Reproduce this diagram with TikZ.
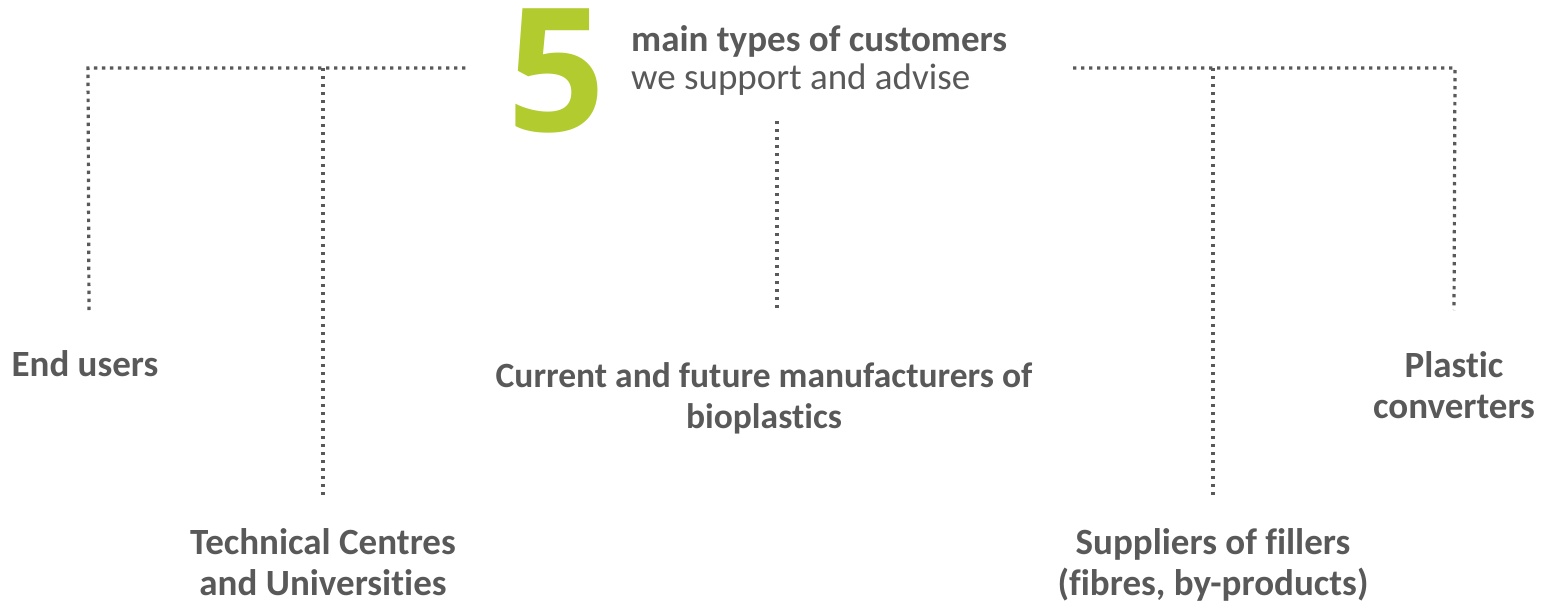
\documentclass[tikz,border=0pt]{standalone}
\usepackage{fontspec}
\setmainfont{Carlito}[Ligatures={NoCommon}]
\newfontfamily\numfont{Open Sans}
\definecolor{txt}{HTML}{595959}
\definecolor{lime}{HTML}{B2CB2E}
\begin{document}
\begin{tikzpicture}[x=1pt,y=-1pt,
  dotline/.style={draw=txt,line width=3.2pt,dash pattern=on 3.4pt off 4.6pt},
  lbl/.style={text=txt,font=\bfseries\fontsize{37}{41}\selectfont,align=center,inner sep=0pt,anchor=base},
]
\useasboundingbox (0,0) rectangle (1549,610);
% header
\node[text=lime,font=\numfont\bfseries\fontsize{172}{172}\selectfont,inner sep=0pt,anchor=base] (five) at (557,131) {5};
\node[text=txt,font=\bfseries\fontsize{37}{40}\selectfont,inner sep=0pt,anchor=base west] (h1) at (631,52) {main types of customers};
\node[text=txt,font=\fontsize{37}{40}\selectfont,inner sep=0pt,anchor=base west] (h2) at (631,89) {we support and advise};
% coordinates
\coordinate (L0) at (88,68);
\coordinate (L1) at (468,68);
\coordinate (Lt) at (323,68);
\coordinate (Lb1) at (89,310);
\coordinate (Lb2) at (323,497);
\coordinate (C0) at (777,121);
\coordinate (C1) at (777,310);
\coordinate (R0) at (1073,68);
\coordinate (R1) at (1455,68);
\coordinate (Rt) at (1213,68);
\coordinate (Rb1) at (1213,497);
\coordinate (Rb2) at (1454,310);
% lines
\draw[dotline] (Lb1) -- (L0) -- (L1);
\draw[dotline] (Lt) -- (Lb2);
\draw[dotline] (C0) -- (C1);
\draw[dotline] (R0) -- (R1) -- (Rb2);
\draw[dotline] (Rt) -- (Rb1);
% labels
\node[lbl] (eu) at (85,376) {End users};
\node[lbl] (tc) at (323,595) {Technical Centres\\and Universities};
\node[lbl,font=\bfseries\fontsize{35.5}{41}\selectfont] (cm) at (764,428) {Current and future manufacturers of\\bioplastics};
\node[lbl] (pc) at (1454,418) {Plastic\\converters};
\node[lbl] (sf) at (1213,595) {Suppliers of fillers\\(fibres, by-products)};
\end{tikzpicture}
\end{document}
